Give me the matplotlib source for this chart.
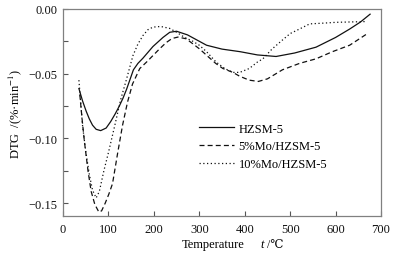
import matplotlib
matplotlib.use("Agg")
import matplotlib.pyplot as plt
from matplotlib.ticker import MultipleLocator, FuncFormatter

# ---- data ----
labels = ["HZSM-5", "5%Mo/HZSM-5", "10%Mo/HZSM-5"]

x_h = [35, 43, 51, 58, 65, 73, 83, 95, 105, 115, 124, 132, 140, 155, 165, 176, 198,
       220, 235, 250, 274, 295, 316, 350, 390, 428, 469, 510, 557, 600, 631, 655, 676]
y_h = [-0.0615, -0.071, -0.079, -0.085, -0.0898, -0.093, -0.094, -0.092, -0.087,
       -0.081, -0.075, -0.069, -0.062, -0.047, -0.042, -0.038, -0.029, -0.022,
       -0.018, -0.0172, -0.020, -0.024, -0.028, -0.031, -0.033, -0.0355, -0.0367,
       -0.034, -0.0295, -0.022, -0.0155, -0.010, -0.004]

x_5 = [37, 42, 47, 55, 62, 70, 79, 85, 93, 101, 109, 120, 131, 142, 153, 169, 184,
       198, 212, 227, 240, 253, 271, 290, 301, 320, 336, 352, 374, 389, 410, 430,
       450, 483, 521, 557, 593, 631, 670]
y_5 = [-0.066, -0.085, -0.102, -0.125, -0.141, -0.151, -0.157, -0.156, -0.150,
       -0.143, -0.135, -0.112, -0.090, -0.072, -0.058, -0.046, -0.041, -0.036,
       -0.031, -0.026, -0.0228, -0.0217, -0.023, -0.028, -0.031, -0.037, -0.042,
       -0.046, -0.049, -0.052, -0.055, -0.056, -0.054, -0.047, -0.042, -0.0385,
       -0.033, -0.028, -0.019]

x_10 = [35, 43, 50, 58, 65, 73, 80, 90, 100, 114, 127, 140, 154, 165, 176, 187, 198,
        215, 235, 250, 268, 286, 300, 316, 337, 356, 374, 389, 410, 428, 440, 460,
        483, 500, 521, 543, 570, 601, 635, 667]
y_10 = [-0.055, -0.090, -0.110, -0.128, -0.140, -0.146, -0.141, -0.125, -0.111,
        -0.090, -0.070, -0.054, -0.036, -0.027, -0.0205, -0.016, -0.014, -0.0135,
        -0.015, -0.018, -0.022, -0.025, -0.028, -0.033, -0.041, -0.046, -0.049,
        -0.049, -0.046, -0.041, -0.0385, -0.031, -0.024, -0.019, -0.0154, -0.0115,
        -0.011, -0.0103, -0.010, -0.0097]

x_ticks = [0, 100, 200, 300, 400, 500, 600, 700]
y_ticks = [0.00, -0.05, -0.10, -0.15]

fam = ['Liberation Serif', 'DejaVu Serif', 'DejaVu Sans']
plt.rcParams['font.family'] = fam
plt.rcParams['mathtext.fontset'] = 'stix'

fig = plt.figure(figsize=(4.04, 2.55), dpi=100)
ax = fig.add_axes([63/404, 38/255, 318/404, 207/255])

lc = '#111111'
ax.plot(x_h, y_h, color=lc, lw=0.9, linestyle='-', label=labels[0])
ax.plot(x_5, y_5, color=lc, lw=0.9, linestyle=(0, (4, 2.5)), label=labels[1])
ax.plot(x_10, y_10, color=lc, lw=0.9, linestyle=(0, (1, 2)), label=labels[2])

ax.set_xlim(0, 700)
ax.set_ylim(-0.16, 0.0)
ax.set_xticks(x_ticks)
ax.set_yticks(y_ticks)
ax.yaxis.set_minor_locator(MultipleLocator(0.025))
ax.yaxis.set_major_formatter(FuncFormatter(lambda v, p: ("%.2f" % v).replace('-', '\u2212') if abs(v) > 1e-9 else "0.00"))

for s in ax.spines.values():
    s.set_color('#808080')
    s.set_linewidth(0.9)
ax.tick_params(axis='both', which='both', direction='in', colors='#555555',
               labelcolor='#111111', labelsize=9, top=False, right=False)
ax.tick_params(which='major', length=3.5, width=0.8)
ax.tick_params(which='minor', length=3.5, width=0.8)
ax.tick_params(axis='x', pad=5)
ax.tick_params(axis='y', pad=4)

# x label assembled from pieces (italic t, degree-Celsius sign with font fallback)
yl = 1 - 245/255
fig.text(182/404, yl, "Temperature", fontsize=9, ha='left', va='center', family=fam)
fig.text(260/404, yl, "t", fontsize=9, ha='left', va='center', style='italic', family=fam)
fig.text(267/404, yl, "/\u2103", fontsize=8.5, ha='left', va='center', family=fam)

ax.set_ylabel("DTG  /(%\u00b7min$^{-1}$)", fontsize=9, labelpad=3)

leg = ax.legend(loc='upper left', bbox_to_anchor=(0.428, 0.45), frameon=False,
                fontsize=9, handlelength=2.8, handletextpad=0.35,
                labelspacing=0.45, borderpad=0, borderaxespad=0)

fig.savefig("out.png", dpi=100)
